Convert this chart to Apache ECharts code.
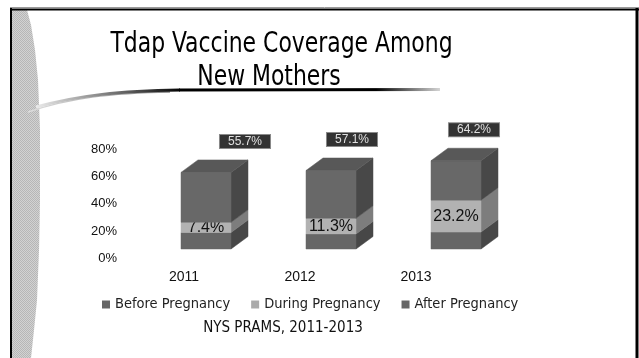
<!DOCTYPE html>
<html><head><meta charset="utf-8">
<script src="https://cdn.jsdelivr.net/npm/echarts@6/dist/echarts.min.js"></script>
<style>html,body{margin:0;padding:0;background:#fff}#c{width:639px;height:358px}</style>
</head><body><div id="c"></div>
<script>
// ---- data ----
const years = ['2011', '2012', '2013'];
const beforePregnancy = [12.0, 11.0, 12.3];
const duringPregnancy = [7.4, 11.3, 23.2];
const afterPregnancy = [36.3, 34.8, 28.7];
const totalLabels = ['55.7%', '57.1%', '64.2%'];
const duringLabels = ['7.4%', '11.3%', '23.2%'];
const yTicks = [0, 20, 40, 60, 80];

// ---- style constants ----
const DX = 17, DY = -12.5, BAR_W = 50;
const topLabelShift = [39, 21, 18];
const faces = {
  before: { front: '#666666', side: '#474747', top: '#585858' },
  during: { front: '#b2b2b2', side: '#7d7d7d', top: '#999999' },
  after:  { front: '#686868', side: '#484848', top: '#585858' }
};
const condensed = '"DejaVu Sans Condensed", "DejaVu Sans", sans-serif';

function grad(stops) {
  return { type: 'linear', x: 0, y: 0, x2: 1, y2: 0, colorStops: stops };
}

// dotted texture for the decorative band
const pat = document.createElement('canvas');
pat.width = 2; pat.height = 2;
(function () {
  const g = pat.getContext('2d');
  g.fillStyle = '#d2d2d2'; g.fillRect(0, 0, 2, 2);
  g.fillStyle = '#b6b6b6'; g.fillRect(0, 0, 1, 1); g.fillRect(1, 1, 1, 1);
})();

function makeRender(key, isTop, isDuring) {
  const c = faces[key];
  return function (params, api) {
    const i = api.value(0), base = api.value(1), v = api.value(2);
    const p0 = api.coord([i, base]);
    const p1 = api.coord([i, base + v]);
    const xl = p0[0] - BAR_W / 2, xr = p0[0] + BAR_W / 2;
    const yb = p0[1], yt = p1[1];
    const children = [
      { type: 'polygon', shape: { points: [[xr, yb], [xr + DX, yb + DY], [xr + DX, yt + DY], [xr, yt]] },
        style: { fill: c.side, stroke: c.side, lineWidth: 0.5 } },
      { type: 'rect', shape: { x: xl, y: yt, width: BAR_W, height: yb - yt },
        style: { fill: c.front, stroke: c.front, lineWidth: 0.5 } }
    ];
    if (isTop) {
      children.push({ type: 'polygon', shape: { points: [[xl, yt], [xl + DX, yt + DY], [xr + DX, yt + DY], [xr, yt]] },
        style: { fill: c.top, stroke: c.top, lineWidth: 0.5 } });
      children.push({ type: 'text', x: p0[0] + topLabelShift[i], y: yt - 31,
        style: { text: totalLabels[i], fill: '#e0e0e0', font: '12px "Liberation Sans", Arial, sans-serif',
          align: 'center', verticalAlign: 'middle', backgroundColor: '#333333',
          borderColor: '#8a8a8a', borderWidth: 1, padding: [1, 8, 0, 8] } });
    }
    if (isDuring) {
      children.push({ type: 'text', x: p0[0], y: (yb + yt) / 2,
        style: { text: duringLabels[i], fill: '#111', font: '16px "Liberation Sans", Arial, sans-serif',
          align: 'center', verticalAlign: 'middle' } });
    }
    return { type: 'group', children: children };
  };
}

const beforeData = years.map((y, i) => [i, 0, beforePregnancy[i]]);
const duringData = years.map((y, i) => [i, beforePregnancy[i], duringPregnancy[i]]);
const afterData = years.map((y, i) => [i, beforePregnancy[i] + duringPregnancy[i], afterPregnancy[i]]);

const chart = echarts.init(document.getElementById('c'), null, { renderer: 'canvas' });
chart.setOption({
  animation: false,
  backgroundColor: '#ffffff',
  grid: [
    { left: 126, width: 348, top: 149.3, bottom: 99.7 },
    { left: 143.5, width: 375, top: 139, bottom: 109 }
  ],
  xAxis: [
    { type: 'category', gridIndex: 0, data: years, axisLine: { show: false }, axisTick: { show: false },
      axisLabel: { margin: 12, fontSize: 14, color: '#111', fontFamily: '"Liberation Sans", Arial, sans-serif' } },
    { type: 'category', gridIndex: 1, data: years, show: false }
  ],
  yAxis: [
    { type: 'value', gridIndex: 0, min: yTicks[0], max: yTicks[yTicks.length - 1], interval: 20,
      axisLine: { show: false }, axisTick: { show: false }, splitLine: { show: false },
      axisLabel: { margin: 9, fontSize: 13, color: '#111', fontFamily: '"Liberation Sans", Arial, sans-serif',
        formatter: v => v + '%' } },
    { type: 'value', gridIndex: 1, min: 0, max: 80, show: false }
  ],
  legend: {
    left: 97, top: 292, itemWidth: 8, itemHeight: 8, itemGap: 21, icon: 'rect',
    textStyle: { fontFamily: condensed, fontSize: 14.5, color: '#222' },
    data: ['Before Pregnancy', 'During Pregnancy', 'After Pregnancy']
  },
  series: [
    { type: 'custom', name: 'Before Pregnancy', xAxisIndex: 1, yAxisIndex: 1, data: beforeData,
      itemStyle: { color: '#666666' }, renderItem: makeRender('before', false, false) },
    { type: 'custom', name: 'During Pregnancy', xAxisIndex: 1, yAxisIndex: 1, data: duringData,
      itemStyle: { color: '#aaaaaa' }, renderItem: makeRender('during', false, true) },
    { type: 'custom', name: 'After Pregnancy', xAxisIndex: 1, yAxisIndex: 1, data: afterData,
      itemStyle: { color: '#666666' }, renderItem: makeRender('after', true, false) }
  ],
  graphic: [
    { type: 'polygon', z: -1, shape: { points: [[12, 10], [27, 10], [31, 25], [35, 50], [38, 80], [40, 130], [40, 200], [39, 250], [37, 300], [34, 330], [31, 358], [12, 358]] },
      style: { fill: { image: pat, repeat: 'repeat' } } },
    { type: 'line', shape: { x1: 10, y1: 7.5, x2: 639, y2: 7.5 }, style: { stroke: '#9a9a9a', lineWidth: 1 } },
    { type: 'line', shape: { x1: 10, y1: 9.5, x2: 639, y2: 9.5 }, style: { stroke: '#000', lineWidth: 2 } },
    { type: 'line', shape: { x1: 11, y1: 8, x2: 11, y2: 358 }, style: { stroke: '#000', lineWidth: 2 } },
    { type: 'line', shape: { x1: 637, y1: 8, x2: 637, y2: 358 }, style: { stroke: '#000', lineWidth: 3 } },
    { type: 'bezierCurve', shape: { x1: 28, y1: 112, cpx1: 70, cpy1: 98, cpx2: 110, cpy2: 93, x2: 170, y2: 92 },
      style: { fill: 'none', lineWidth: 1.5,
        stroke: grad([{ offset: 0, color: '#e0e0e0' }, { offset: 1, color: '#888888' }]) } },
    { type: 'bezierCurve', shape: { x1: 36, y1: 107, cpx1: 80, cpy1: 95, cpx2: 120, cpy2: 91, x2: 180, y2: 90 },
      style: { fill: 'none', lineWidth: 3,
        stroke: grad([{ offset: 0, color: '#eeeeee' }, { offset: 0.6, color: '#666666' }, { offset: 1, color: '#000000' }]) } },
    { type: 'line', shape: { x1: 179, y1: 90, x2: 440, y2: 89.5 },
      style: { lineWidth: 3,
        stroke: grad([{ offset: 0, color: '#000000' }, { offset: 0.75, color: '#000000' }, { offset: 1, color: '#dddddd' }]) } },
    { type: 'text', x: 281.5, y: 45, scaleX: 0.87, style: { text: 'Tdap Vaccine Coverage Among',
        font: '28px ' + condensed, fill: '#000', align: 'center', verticalAlign: 'middle' } },
    { type: 'text', x: 269, y: 78, scaleX: 0.87, style: { text: 'New Mothers',
        font: '28px ' + condensed, fill: '#000', align: 'center', verticalAlign: 'middle' } },
    { type: 'text', x: 283, y: 328, style: { text: 'NYS PRAMS, 2011-2013', font: '15px ' + condensed, fill: '#111',
        align: 'center', verticalAlign: 'middle' } }
  ]
});
</script>
</body></html>
